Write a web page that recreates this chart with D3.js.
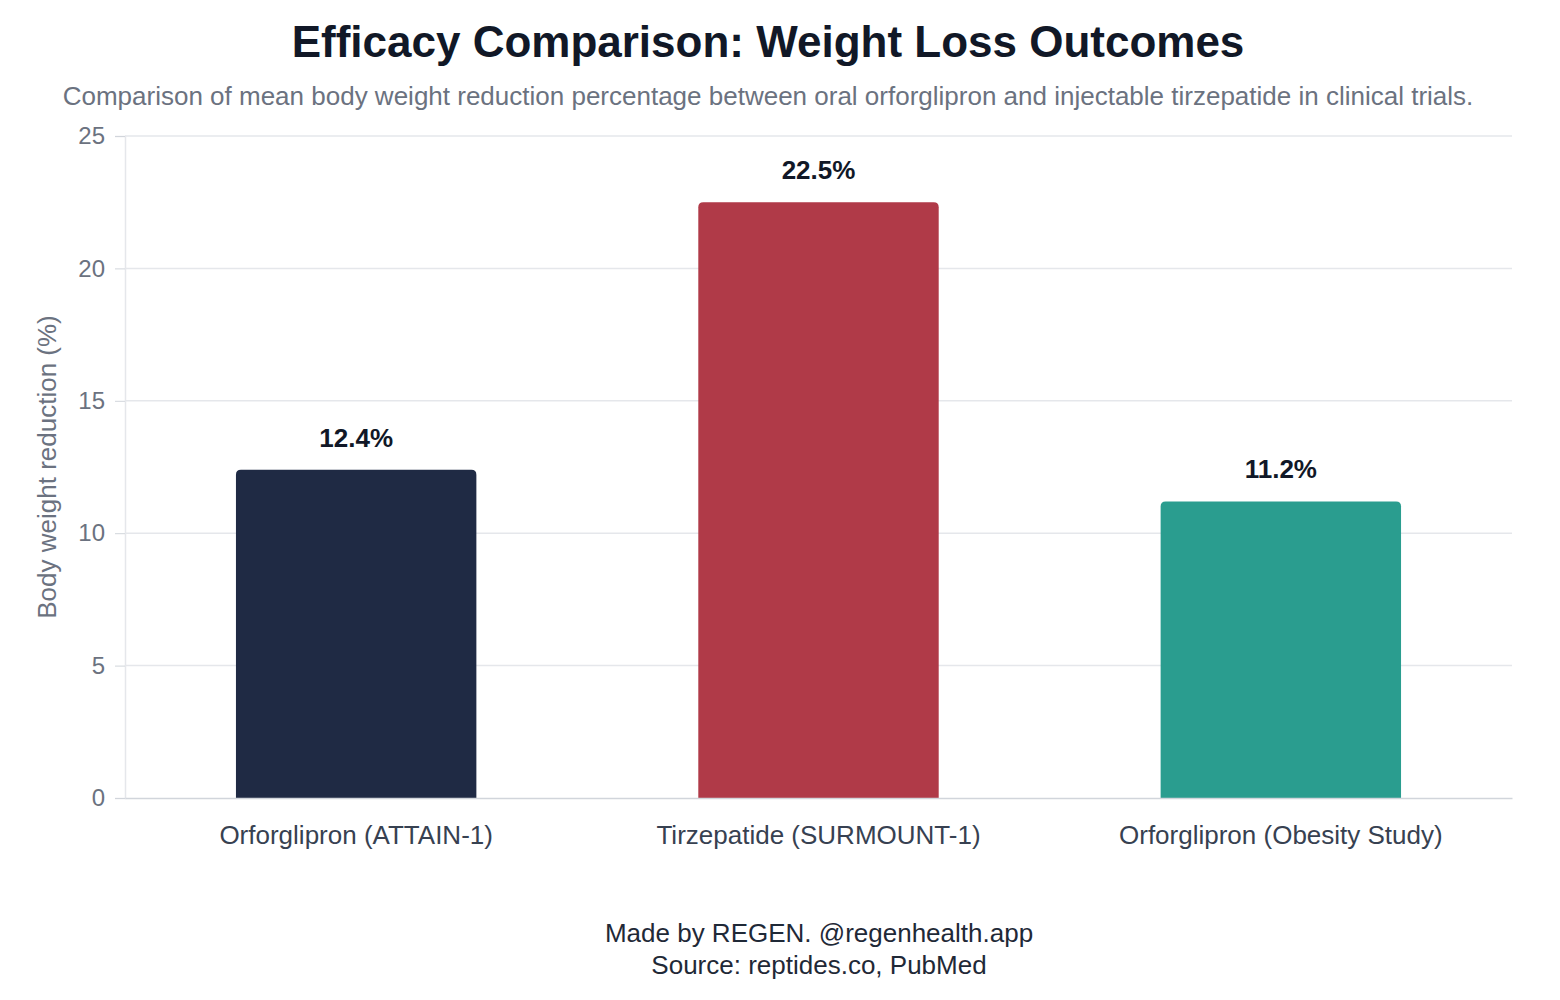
<!DOCTYPE html>
<html><head><meta charset="utf-8">
<script src="https://cdn.jsdelivr.net/npm/d3@7"></script>
<style>body{margin:0;background:#fff;font-family:"Liberation Sans",Arial,sans-serif}</style>
</head><body><svg id="c" width="1560" height="1000"></svg>
<script>
const categories = ["Orforglipron (ATTAIN-1)", "Tirzepatide (SURMOUNT-1)", "Orforglipron (Obesity Study)"];
const values = [12.4, 22.5, 11.2];
const colors = ["#1f2a44", "#b03a48", "#2a9d8f"];
const yTicks = [0, 5, 10, 15, 20, 25];

const svg = d3.select("#c");
const L = 125, R = 1512, T = 136, B = 798;
const x = d3.scaleBand().domain(categories).range([L, R]).paddingInner(0.48).paddingOuter(0.24);
const y = d3.scaleLinear().domain([0, 25]).range([B, T]);

svg.append("text").attr("x", 768).attr("y", 57).attr("text-anchor", "middle")
  .attr("font-size", 44).attr("font-weight", "bold").attr("fill", "#111827")
  .text("Efficacy Comparison: Weight Loss Outcomes");
svg.append("text").attr("x", 768).attr("y", 105).attr("text-anchor", "middle")
  .attr("font-size", 26).attr("fill", "#6b7280")
  .text("Comparison of mean body weight reduction percentage between oral orforglipron and injectable tirzepatide in clinical trials.");

svg.append("g").selectAll("line").data(yTicks.filter(d => d > 0)).join("line")
  .attr("x1", L).attr("x2", R).attr("y1", d => y(d)).attr("y2", d => y(d))
  .attr("stroke", "#e5e7eb").attr("stroke-width", 1.5);

const ya = svg.append("g").attr("transform", `translate(${L},0)`)
  .call(d3.axisLeft(y).tickValues(yTicks).tickSize(10).tickPadding(10));
ya.select(".domain").attr("stroke", "#e5e7eb").attr("stroke-width", 1.5);
ya.selectAll(".tick line").attr("stroke", "#d1d5db");
ya.selectAll("text").attr("font-size", 24).attr("fill", "#6b7280").attr("font-family", "Liberation Sans, Arial, sans-serif");

svg.append("g").selectAll("path").data(values).join("path")
  .attr("fill", (d, i) => colors[i])
  .attr("d", (d, i) => {
    const x0 = x(categories[i]), w = x.bandwidth(), y0 = y(d), r = 5;
    return `M${x0},${B}V${y0 + r}Q${x0},${y0} ${x0 + r},${y0}H${x0 + w - r}Q${x0 + w},${y0} ${x0 + w},${y0 + r}V${B}Z`;
  });
svg.append("g").selectAll("text").data(values).join("text")
  .attr("x", (d, i) => x(categories[i]) + x.bandwidth() / 2).attr("y", d => y(d) - 23)
  .attr("text-anchor", "middle").attr("font-size", 26).attr("font-weight", "bold").attr("fill", "#111827")
  .text(d => d + "%");

const xa = svg.append("g").attr("transform", `translate(0,${B})`)
  .call(d3.axisBottom(x).tickSize(0).tickPadding(28));
xa.select(".domain").attr("stroke", "#d1d5db").attr("stroke-width", 1.5);
xa.selectAll("text").attr("font-size", 26).attr("fill", "#374151").attr("font-family", "Liberation Sans, Arial, sans-serif");

svg.append("text").attr("transform", `translate(56,${(T + B) / 2}) rotate(-90)`)
  .attr("text-anchor", "middle").attr("font-size", 26).attr("fill", "#6b7280")
  .text("Body weight reduction (%)");

svg.append("text").attr("x", 819).attr("y", 942).attr("text-anchor", "middle")
  .attr("font-size", 26).attr("fill", "#1f2937").text("Made by REGEN. @regenhealth.app");
svg.append("text").attr("x", 819).attr("y", 974).attr("text-anchor", "middle")
  .attr("font-size", 26).attr("fill", "#1f2937").text("Source: reptides.co, PubMed");
</script></body></html>
